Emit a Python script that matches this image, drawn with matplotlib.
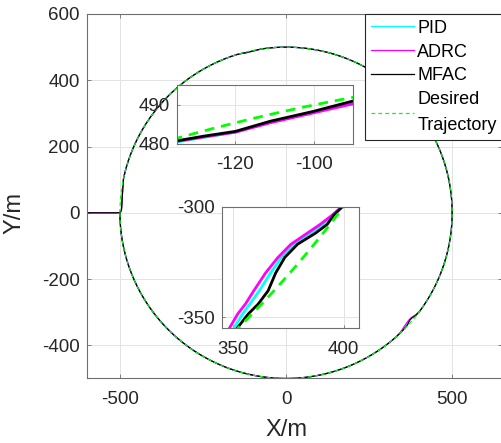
"""Circular path tracking: PID vs ADRC vs MFAC against a 500 m desired circle,
with two zoomed insets on the tracking error."""

import matplotlib

matplotlib.use("Agg")
import matplotlib.pyplot as plt
import numpy as np

plt.rcParams["font.family"] = ["Liberation Sans", "DejaVu Sans"]
plt.rcParams["axes.unicode_minus"] = False

# Desired trajectory: circle of radius 500 m centred on the origin.
DESIRED_RADIUS = 500.0

# Entry segment (shared by all controllers), from x=-600 onto the circle.
START_X = [-600, -510, -503, -498, -495.5, -494.5, -493.5, -492, -490]
START_Y = [0, 0, 0.5, 3, 8, 20, 40, 65, 95]

# Upper-left deviation (first inset), y read at common x positions.
SEG1_X = [-145, -135, -128, -120, -111, -100, -90, -80]
SEG1_Y_PID = [478.2, 480.5, 481.7, 483.0, 485.6, 488.1, 490.6, 493.0]
SEG1_Y_ADRC = [478.2, 480.7, 481.8, 483.0, 485.4, 487.9, 490.2, 492.8]
SEG1_Y_MFAC = [478.3, 480.8, 482.0, 483.2, 485.8, 488.3, 490.9, 493.2]

# Lower-right deviation (second inset), x read at common y positions.
SEG2_Y = [-298, -304, -308, -312, -317, -323, -330, -338, -344, -348.5, -355.5, -362, -370]
SEG2_X_PID = [401.5, 395.0, 390.5, 385.0, 377.7, 371.8, 366.9, 361.8, 357.5, 354.2, 349.9, 344.0, 336.2]
SEG2_X_ADRC = [401.5, 394.6, 389.4, 383.5, 376.1, 370.2, 364.6, 359.3, 355.5, 352.0, 347.9, 343.0, 336.0]
SEG2_X_MFAC = [401.5, 395.4, 392.6, 387.2, 379.1, 373.3, 369.2, 365.8, 361.3, 356.8, 351.3, 344.6, 336.3]

LABELS = ["PID", "ADRC", "MFAC", "Desired\nTrajectory"]
COLORS = ["#00FFFF", "#FF00FF", "#000000", "#00FF00"]

INK = "#262626"
SPINE = "#6e6e6e"
GRID = "#e3e3e3"


def arc(a0, a1):
    a = np.radians(np.arange(a0, a1, -0.1 if a1 < a0 else 0.1))
    return DESIRED_RADIUS * np.cos(a), DESIRED_RADIUS * np.sin(a)


def tracked(seg1_y, seg2_x):
    parts_x, parts_y = [np.array(START_X, float)], [np.array(START_Y, float)]
    a_start = np.degrees(np.arctan2(START_Y[-1] + 5, -np.sqrt(DESIRED_RADIUS**2 - (START_Y[-1] + 5) ** 2)))
    a_s1 = np.degrees(np.arctan2(seg1_y[0], SEG1_X[0])) + 0.15
    a_e1 = np.degrees(np.arctan2(seg1_y[-1], SEG1_X[-1])) - 0.15
    a_s2 = np.degrees(np.arctan2(SEG2_Y[0], seg2_x[0])) + 0.15
    a_e2 = np.degrees(np.arctan2(SEG2_Y[-1], seg2_x[-1])) - 0.15
    for px, py in (arc(a_start, a_s1), (SEG1_X, seg1_y), arc(a_e1, a_s2),
                   (seg2_x, SEG2_Y), arc(a_e2, -180.0)):
        parts_x.append(np.asarray(px, float))
        parts_y.append(np.asarray(py, float))
    return np.concatenate(parts_x), np.concatenate(parts_y)


def style(ax, fs=13.5):
    for s in ax.spines.values():
        s.set_color(SPINE)
        s.set_linewidth(0.8)
    ax.tick_params(direction="in", length=3, width=0.6, color=SPINE,
                   labelcolor=INK, labelsize=fs, top=True, right=True)
    ax.tick_params(axis="x", pad=9)
    ax.tick_params(axis="y", pad=5)
    ax.grid(True, color=GRID, lw=0.7)
    ax.set_axisbelow(True)


def main():
    curves = [
        tracked(SEG1_Y_PID, SEG2_X_PID),
        tracked(SEG1_Y_ADRC, SEG2_X_ADRC),
        tracked(SEG1_Y_MFAC, SEG2_X_MFAC),
    ]
    des_x, des_y = arc(180.0, -180.05)

    fig = plt.figure(figsize=(5.02, 4.43), dpi=100)
    ax = fig.add_axes([0.1727, 0.1456, 0.8273, 0.8228])

    handles = []
    for (cx, cy), col, lab in zip(curves, COLORS[:3], LABELS[:3]):
        h, = ax.plot(cx, cy, color=col, lw=0.9, label=lab)
        handles.append(h)
    h, = ax.plot(des_x, des_y, color=COLORS[3], lw=0.9, ls=(0, (3, 2.5)), label=LABELS[3])
    handles.append(h)

    ax.set_xlim(-600, 650)
    ax.set_ylim(-500, 600)
    ax.set_xticks([-500, 0, 500])
    ax.set_yticks([-400, -200, 0, 200, 400, 600])
    style(ax)
    ax.set_xlabel("X/m", fontsize=17, color=INK)
    ax.set_ylabel("Y/m", fontsize=17, color=INK)
    ax.xaxis.set_label_coords(0.48, -0.112)
    ax.yaxis.set_label_coords(-0.147, 0.454)

    leg = fig.legend(handles, LABELS, loc="upper left", bbox_to_anchor=(0.727, 0.969),
                     bbox_transform=fig.transFigure, fontsize=13, frameon=True,
                     fancybox=False, framealpha=1, borderaxespad=0, borderpad=0.33,
                     handlelength=2.4, handletextpad=0.17, labelspacing=0.38)
    leg.get_frame().set_edgecolor(INK)
    leg.get_frame().set_linewidth(0.8)
    leg.get_texts()[3].set_linespacing(1.7)

    # Inset 1: upper-left part of the circle.
    in1 = fig.add_axes([0.352, 0.675, 0.3506, 0.1332])
    # Inset 2: lower-right deviation.
    in2 = fig.add_axes([0.4428, 0.2589, 0.2723, 0.2745])
    for axi in (in1, in2):
        axi.set_facecolor("white")
        for (cx, cy), col in zip(curves, COLORS[:3]):
            axi.plot(cx, cy, color=col, lw=2.0)
        axi.plot(des_x, des_y, color=COLORS[3], lw=2.0, ls=(0, (3.5, 2.5)))
        style(axi)
        axi.tick_params(top=False, right=False, length=2)

    in1.set_xlim(-135, -90)
    in1.set_ylim(480, 495)
    in1.set_xticks([-120, -100])
    in1.set_yticks([480, 490])

    in2.set_xlim(345, 407)
    in2.set_ylim(-355, -300)
    in2.set_xticks([350, 400])
    in2.set_yticks([-350, -300])

    fig.savefig("out.png", dpi=100)


if __name__ == "__main__":
    main()
